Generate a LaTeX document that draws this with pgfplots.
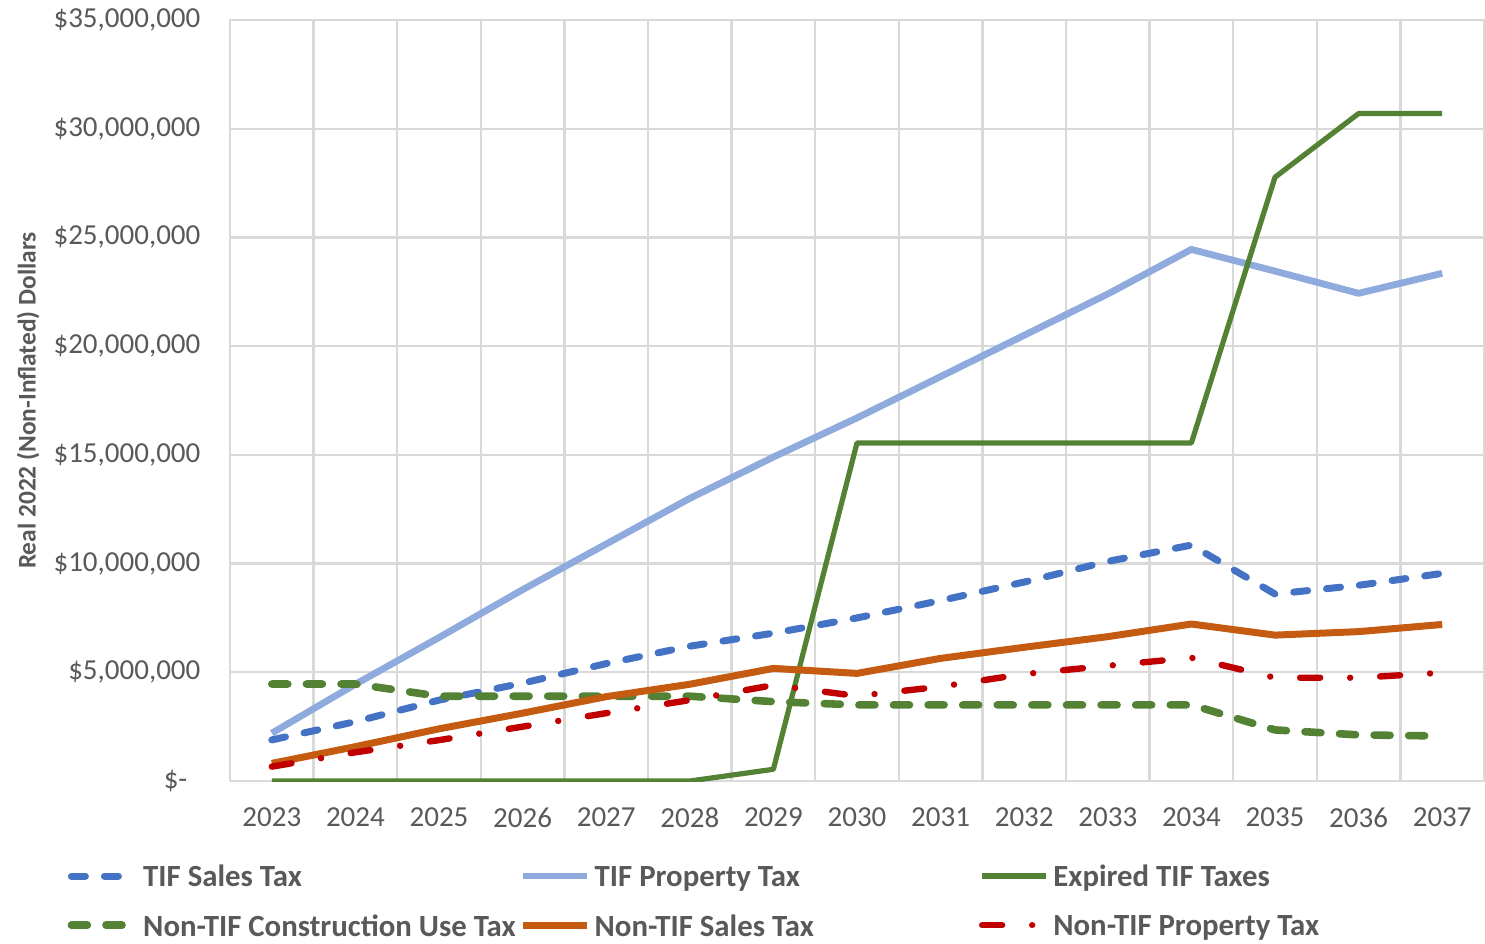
\documentclass[border=0pt]{standalone}
\usepackage{pgfplots}
\pgfplotsset{compat=1.18}
\usepackage{pgfplotstable}
\usepackage{fontspec}
\setmainfont{Carlito}

\definecolor{salesblue}{HTML}{4472C4}
\definecolor{propblue}{HTML}{8FAADC}
\definecolor{darkgreen}{HTML}{548235}
\definecolor{burnt}{HTML}{C55A11}
\definecolor{darkred}{HTML}{C00000}
\definecolor{txtgray}{HTML}{595959}
\definecolor{gridgray}{HTML}{D9D9D9}

% year index 0 = 2023 ... 14 = 2037, values in real 2022 dollars
\pgfplotstableread{
idx tifsales tifprop  expired  constr  nonsales nonprop
0   1890000  2200000  0        4460000 810000   660000
1   2730000  4450000  0        4460000 1580000  1320000
2   3720000  6600000  0        3900000 2400000  1880000
3   4500000  8800000  0        3900000 3120000  2500000
4   5400000  10900000 0        3900000 3880000  3120000
5   6200000  13000000 0        3900000 4450000  3720000
6   6800000  14900000 540000   3650000 5180000  4410000
7   7500000  16700000 15550000 3500000 4950000  3910000
8   8300000  18600000 15550000 3500000 5640000  4340000
9   9150000  20500000 15550000 3500000 6150000  4920000
10  10100000 22400000 15550000 3500000 6640000  5300000
11  10850000 24450000 15550000 3500000 7220000  5670000
12  8600000  23450000 27770000 2350000 6710000  4750000
13  9000000  22430000 30700000 2120000 6870000  4750000
14  9550000  23350000 30700000 2070000 7200000  4980000
}\taxdata

\begin{document}
\begin{tikzpicture}
\begin{axis}[
    scale only axis,
    width=627pt, height=380.5pt,
    xmin=-0.5, xmax=14.5,
    ymin=0, ymax=35000000,
    xtick={0,1,2,3,4,5,6,7,8,9,10,11,12,13,14},
    xticklabels={2023,2024,2025,2026,2027,2028,2029,2030,2031,2032,2033,2034,2035,2036,2037},
    minor xtick={-0.5,0.5,...,14.5},
    ytick={0,5000000,10000000,15000000,20000000,25000000,30000000,35000000},
    yticklabels={{\$-\hspace*{6.5pt}},{\$5,000,000},{\$10,000,000},{\$15,000,000},{\$20,000,000},{\$25,000,000},{\$30,000,000},{\$35,000,000}},
    scaled y ticks=false,
    major tick length=0pt, minor tick length=0pt,
    xmajorgrids=false, xminorgrids=true, ymajorgrids=true,
    major grid style={gridgray, line width=1.2pt},
    minor grid style={gridgray, line width=1.2pt},
    axis line style={gridgray, line width=1.2pt},
    tick label style={font=\fontsize{14.5}{16}\selectfont, text=txtgray},
    xticklabel style={yshift=-10pt},
    yticklabel style={xshift=-11.3pt},
    ylabel={Real 2022 (Non-Inflated) Dollars},
    every axis y label/.style={at={(axis description cs:-0.161,0.5)}, rotate=90, anchor=center,
        font=\bfseries\fontsize{12.7}{14}\selectfont, text=txtgray},
    legend columns=3,
    legend cell align=left,
    legend image code/.code={\draw[#1] (0pt,0pt) -- (32pt,0pt);},
    legend style={at={(axis description cs:-0.1346,-0.0996)}, anchor=north west,
        draw=none, fill=none, text=txtgray,
        font=\bfseries\fontsize{15.4}{18}\selectfont,
        nodes={text depth=0pt},
        row sep=9.8pt,
        /tikz/column 2/.style={column sep=0pt},
        /tikz/column 4/.style={column sep=80.5pt}},
    line join=round,
]
\addplot[salesblue, line width=3.5pt, line cap=round, dash pattern=on 7pt off 9.5pt] table[x=idx, y=tifsales] {\taxdata};
\addlegendentry{TIF Sales Tax}
\addplot[propblue, line width=3.4pt] table[x=idx, y=tifprop] {\taxdata};
\addlegendentry{TIF Property Tax}
\addplot[darkgreen, line width=2.6pt] table[x=idx, y=expired] {\taxdata};
\addlegendentry{Expired TIF Taxes}
\addplot[darkgreen, line width=3.8pt, line cap=round, dash pattern=on 8pt off 9.3pt] table[x=idx, y=constr] {\taxdata};
\addlegendentry{Non-TIF Construction Use Tax}
\addplot[burnt, line width=3.5pt] table[x=idx, y=nonsales] {\taxdata};
\addlegendentry{Non-TIF Sales Tax}
\addplot[darkred, line width=3.2pt, line cap=round, dash pattern=on 10pt off 15pt on 0.01pt off 15pt] table[x=idx, y=nonprop] {\taxdata};
\addlegendentry{Non-TIF Property Tax}
\coordinate (bbsw) at (rel axis cs:-0.18341,-0.21288);
\coordinate (bbne) at (rel axis cs:1.0008,1.02628);
\end{axis}
\pgfresetboundingbox
\path[use as bounding box] (bbsw) rectangle (bbne);
\end{tikzpicture}
\end{document}
